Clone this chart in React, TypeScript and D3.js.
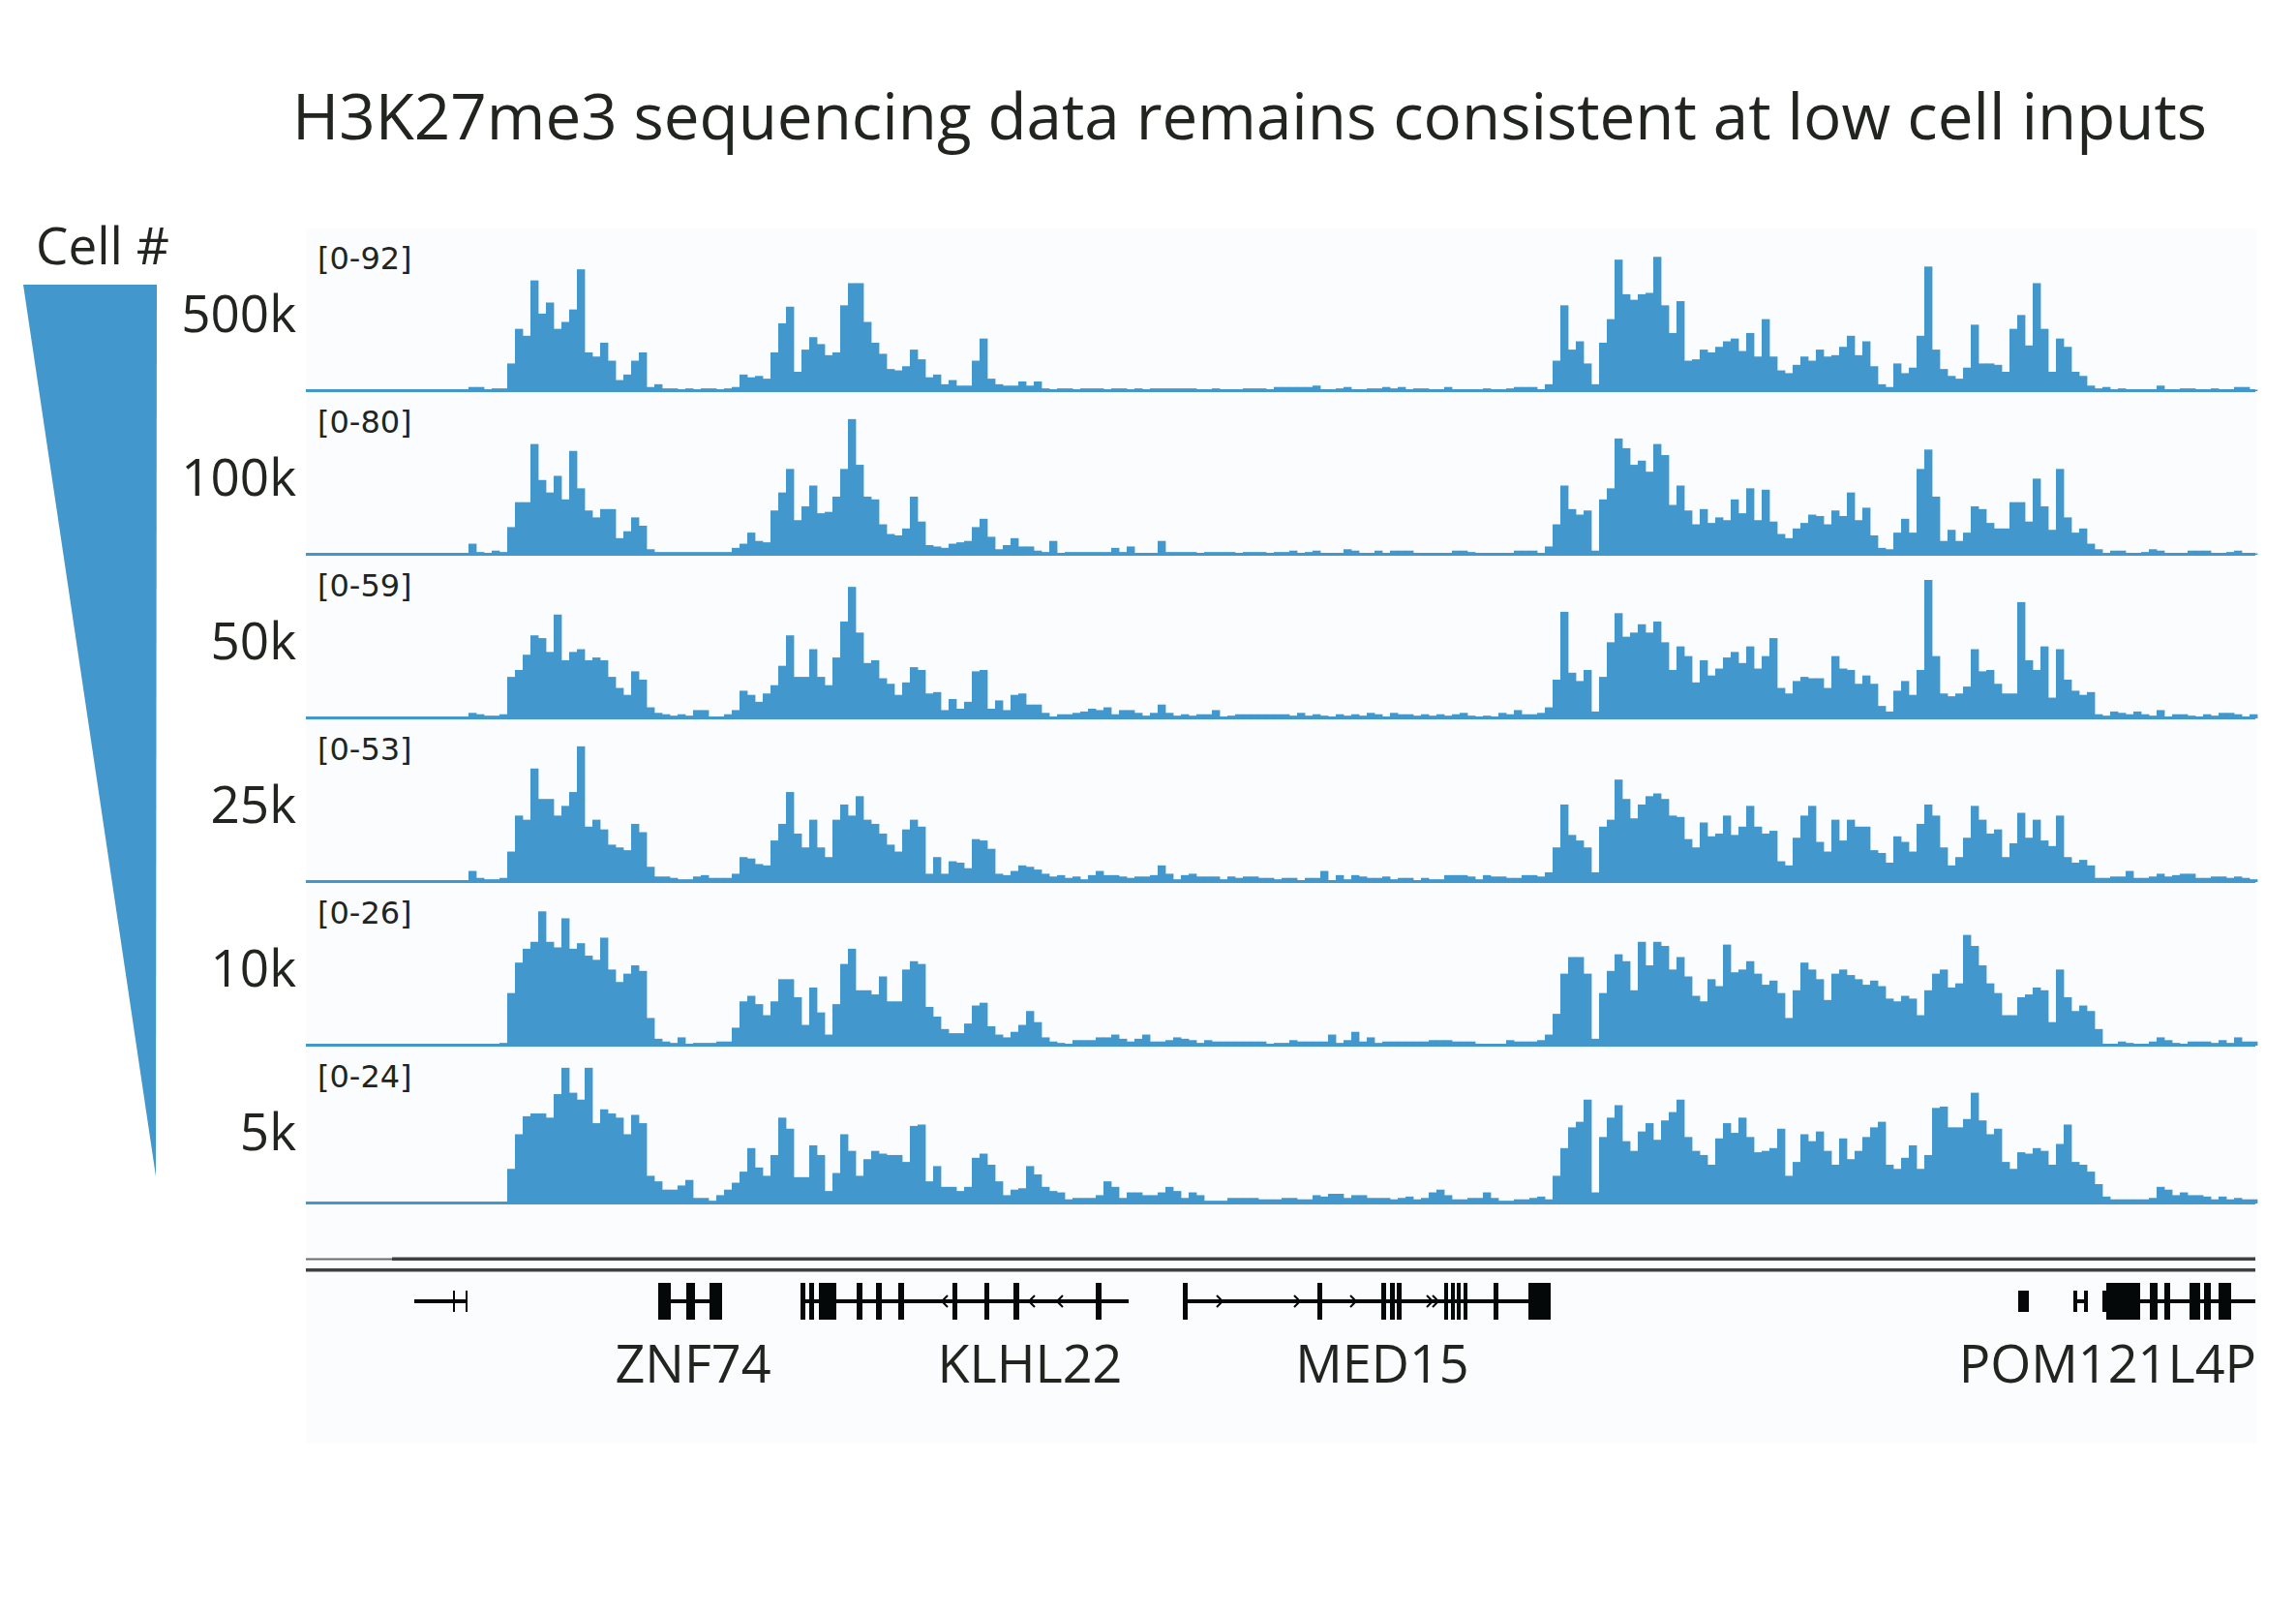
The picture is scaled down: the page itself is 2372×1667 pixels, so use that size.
import * as d3 from 'd3'

// IGV-style screenshot: H3K27me3 CUT&RUN coverage at decreasing cell inputs
const W = 2372
const H = 1667

const BIN_KB = 2
const REGION_KB = 504

const sampleLabels = ['500k', '100k', '50k', '25k', '10k', '5k']
const dataRanges = [92, 80, 59, 53, 26, 24]

// coverage per 2 kb bin, as % of each track's data range
const cov500k = [
  0, 0, 0, 0, 0, 0, 0, 0, 0, 0, 0, 0, 0, 0, 0, 0, 0, 0, 0, 0,
  0, 3, 3, 1, 2, 2, 20, 45, 40, 80, 56, 64, 45, 50, 59, 88, 28, 25, 35, 22,
  8, 12, 22, 28, 3, 5, 2, 2, 0, 2, 1, 2, 2, 1, 2, 3, 12, 10, 11, 9,
  28, 49, 61, 14, 30, 39, 34, 26, 28, 62, 78, 78, 50, 35, 27, 16, 15, 18, 30, 23,
  10, 12, 5, 8, 4, 4, 22, 38, 9, 5, 4, 4, 7, 4, 7, 2, 1, 2, 2, 0,
  2, 2, 2, 1, 2, 2, 0, 2, 1, 2, 2, 2, 2, 2, 2, 0, 1, 2, 0, 0,
  0, 2, 2, 2, 1, 3,
  3, 3, 3, 3, 4, 1, 1, 2, 3, 1, 1, 2, 2, 3, 2, 3, 1, 2, 2, 1,
  1, 3, 1, 1, 1, 1, 2, 1, 1, 2, 3, 3, 3, 1, 5, 22, 62, 30, 36, 20,
  5, 35, 52, 95, 70, 66, 70, 71, 97, 62, 42, 65, 22, 23, 30, 28, 32, 36, 38, 29,
  42, 25, 52, 25, 15, 13, 19, 25, 22, 30, 25, 26, 32, 40, 26, 36, 18, 5, 3, 20,
  13, 17, 40, 90, 30, 16, 11, 9, 17, 48, 20, 20, 19, 14, 45, 55, 33, 78, 45, 14,
  38, 32, 14, 11, 4, 2, 3, 1, 2, 1, 1, 1, 1, 4, 1, 1, 2, 2, 1, 1,
  2, 1, 1, 3, 3, 1
]
const cov100k = [
  0, 0, 0, 0, 0, 0, 0, 0, 0, 0, 0, 0, 0, 0, 0, 0, 0, 0, 0, 0,
  0, 8, 2, 1, 3, 2, 20, 38, 38, 80, 54, 45, 57, 40, 75, 48, 32, 27, 33, 33,
  12, 17, 27, 21, 4, 2, 2, 2, 2, 2, 2, 2, 2, 2, 2, 5, 8, 16, 10, 9,
  32, 45, 62, 25, 35, 50, 30, 31, 42, 62, 98, 65, 42, 40, 22, 15, 14, 19, 42, 24,
  7, 6, 5, 8, 9, 10, 20, 26, 13, 4, 7, 12, 6, 6, 3, 2, 10, 0, 2, 2,
  2, 2, 2, 2, 5, 2, 6, 1, 0, 0, 10, 2, 2, 2, 2, 0, 2, 2, 2, 2,
  0, 2, 2, 2, 0, 2,
  2, 3, 1, 2, 3, 1, 1, 1, 4, 3, 1, 1, 3, 1, 3, 3, 3, 1, 1, 1,
  1, 1, 3, 3, 2, 1, 1, 1, 1, 1, 3, 3, 3, 1, 6, 22, 50, 33, 29, 32,
  3, 40, 48, 84, 77, 65, 68, 60, 80, 72, 36, 50, 32, 22, 33, 23, 27, 25, 40, 30,
  48, 25, 47, 24, 15, 12, 19, 23, 29, 28, 22, 32, 28, 45, 25, 34, 14, 5, 4, 16,
  26, 16, 62, 76, 42, 10, 18, 10, 16, 35, 33, 23, 19, 19, 38, 38, 24, 55, 35, 18,
  62, 27, 16, 19, 8, 4, 1, 3, 3, 1, 1, 2, 4, 3, 1, 1, 1, 3, 3, 3,
  1, 1, 2, 3, 1, 1
]
const cov50k = [
  0, 0, 0, 0, 0, 0, 0, 0, 0, 0, 0, 0, 0, 0, 0, 0, 0, 0, 0, 0,
  0, 4, 3, 2, 2, 3, 30, 35, 46, 60, 58, 48, 75, 42, 48, 50, 42, 44, 42, 30,
  22, 17, 34, 28, 8, 4, 3, 2, 3, 2, 6, 6, 1, 1, 3, 6, 20, 17, 12, 18,
  24, 38, 60, 30, 30, 50, 30, 24, 44, 70, 95, 62, 40, 42, 29, 25, 17, 26, 37, 35,
  18, 19, 6, 14, 7, 12, 34, 35, 7, 13, 6, 17, 18, 10, 10, 4, 1, 3, 3, 4,
  5, 7, 6, 8, 3, 6, 6, 4, 2, 4, 10, 4, 2, 3, 2, 3, 3, 6, 1, 2,
  3, 3, 3, 3, 3, 3,
  3, 2, 4, 2, 3, 2, 1, 3, 2, 3, 2, 4, 3, 1, 4, 3, 3, 2, 3, 2,
  3, 2, 3, 4, 2, 1, 2, 1, 4, 3, 6, 3, 3, 4, 8, 28, 77, 33, 27, 35,
  5, 30, 55, 76, 59, 62, 68, 62, 70, 55, 35, 52, 45, 26, 42, 31, 36, 44, 48, 40,
  52, 36, 45, 58, 22, 18, 27, 30, 29, 29, 22, 45, 36, 35, 25, 31, 25, 9, 5, 20,
  27, 17, 35, 100, 45, 18, 16, 18, 23, 50, 34, 35, 25, 18, 18, 84, 42, 35, 52, 15,
  50, 28, 20, 17, 19, 3, 2, 5, 4, 3, 5, 3, 2, 6, 1, 3, 3, 2, 1, 3,
  2, 4, 4, 3, 1, 3
]
const cov25k = [
  0, 0, 0, 0, 0, 0, 0, 0, 0, 0, 0, 0, 0, 0, 0, 0, 0, 0, 0, 0,
  0, 8, 3, 2, 2, 3, 22, 48, 45, 82, 60, 60, 48, 55, 65, 98, 40, 45, 38, 27,
  25, 23, 42, 36, 11, 4, 4, 3, 2, 2, 4, 5, 3, 3, 3, 6, 18, 17, 13, 12,
  30, 42, 65, 35, 25, 45, 25, 18, 45, 56, 48, 62, 45, 42, 35, 27, 22, 38, 45, 40,
  6, 18, 6, 15, 14, 10, 31, 30, 24, 6, 5, 8, 12, 11, 9, 6, 4, 5, 3, 4,
  2, 5, 8, 5, 5, 4, 3, 4, 4, 5, 12, 6, 2, 5, 6, 4, 4, 4, 2, 4,
  3, 4, 4, 3, 3, 2,
  3, 3, 1, 3, 3, 8, 1, 5, 2, 5, 4, 3, 3, 4, 2, 3, 3, 1, 3, 2,
  2, 5, 5, 5, 4, 2, 5, 4, 4, 3, 3, 5, 5, 4, 7, 25, 56, 34, 30, 25,
  7, 40, 45, 74, 60, 46, 56, 62, 64, 60, 48, 47, 31, 25, 43, 33, 35, 48, 34, 40,
  55, 40, 35, 37, 15, 12, 32, 48, 55, 29, 22, 45, 30, 45, 40, 40, 23, 21, 14, 33,
  29, 22, 42, 56, 48, 25, 12, 18, 32, 55, 45, 35, 38, 18, 28, 50, 32, 45, 30, 26,
  48, 18, 14, 16, 12, 3, 3, 4, 4, 8, 3, 3, 4, 6, 4, 5, 6, 6, 3, 3,
  4, 4, 3, 4, 3, 2
]
const cov10k = [
  0, 0, 0, 0, 0, 0, 0, 0, 0, 0, 0, 0, 0, 0, 0, 0, 0, 0, 0, 0,
  0, 0, 0, 0, 0, 2, 38, 60, 70, 75, 97, 75, 71, 92, 70, 74, 65, 62, 78, 55,
  46, 52, 58, 54, 20, 5, 3, 2, 6, 1, 2, 2, 2, 3, 3, 13, 32, 36, 30, 22,
  32, 48, 48, 35, 15, 42, 24, 8, 30, 59, 70, 40, 40, 37, 50, 32, 32, 55, 61, 59,
  28, 21, 12, 9, 9, 16, 29, 31, 14, 8, 6, 10, 15, 25, 17, 6, 3, 2, 1, 4,
  4, 4, 6, 6, 8, 5, 3, 5, 8, 3, 3, 4, 6, 5, 4, 2, 4, 3, 3, 3,
  3, 3, 3, 3, 1, 2,
  2, 4, 3, 3, 3, 3, 8, 2, 4, 10, 3, 6, 2, 3, 3, 3, 3, 3, 3, 4,
  4, 4, 3, 3, 3, 1, 1, 1, 1, 4, 3, 3, 3, 4, 8, 23, 52, 64, 64, 52,
  5, 38, 54, 66, 61, 40, 75, 58, 75, 72, 55, 64, 50, 36, 32, 48, 43, 73, 53, 55,
  61, 52, 44, 47, 38, 20, 40, 60, 55, 48, 33, 52, 55, 51, 48, 44, 47, 43, 34, 32,
  36, 34, 22, 40, 52, 55, 42, 45, 80, 72, 58, 45, 38, 22, 22, 35, 37, 42, 40, 17,
  55, 35, 25, 29, 25, 12, 1, 1, 3, 2, 1, 1, 3, 6, 4, 2, 1, 3, 3, 3,
  2, 4, 2, 6, 3, 3
]
const cov5k = [
  0, 0, 0, 0, 0, 0, 0, 0, 0, 0, 0, 0, 0, 0, 0, 0, 0, 0, 0, 0,
  0, 0, 0, 0, 0, 0, 25, 50, 63, 65, 65, 62, 79, 98, 80, 75, 98, 58, 68, 65,
  62, 50, 64, 58, 20, 16, 10, 10, 13, 17, 4, 4, 2, 6, 10, 15, 23, 40, 26, 20,
  35, 62, 54, 19, 19, 42, 35, 9, 22, 50, 38, 20, 32, 38, 36, 35, 35, 30, 56, 57,
  16, 27, 12, 12, 9, 12, 33, 36, 28, 16, 6, 10, 11, 27, 21, 12, 9, 8, 3, 4,
  4, 4, 6, 16, 12, 4, 8, 8, 6, 6, 8, 12, 9, 4, 8, 6, 2, 2, 2, 4,
  4, 4, 4, 3, 3, 3,
  4, 4, 3, 3, 6, 5, 7, 7, 4, 6, 6, 4, 4, 4, 3, 4, 5, 3, 4, 8,
  10, 6, 3, 3, 4, 4, 8, 4, 2, 2, 3, 3, 4, 5, 3, 20, 40, 55, 59, 75,
  8, 48, 62, 71, 45, 38, 52, 58, 46, 60, 66, 75, 48, 38, 35, 28, 47, 58, 51, 62,
  48, 37, 38, 40, 54, 20, 30, 50, 45, 52, 38, 28, 47, 32, 38, 48, 55, 59, 28, 25,
  33, 42, 25, 35, 69, 70, 55, 55, 61, 80, 60, 50, 54, 30, 25, 37, 36, 40, 38, 28,
  43, 57, 30, 28, 23, 14, 5, 3, 3, 3, 3, 3, 4, 12, 10, 6, 8, 6, 6, 5,
  3, 5, 3, 4, 3, 3
]
const coverage = [cov500k, cov100k, cov50k, cov25k, cov10k, cov5k]

// gene annotation, positions in kb from the left edge of the window
const geneNames = ['ZNF74', 'KLHL22', 'MED15', 'POM121L4P']
const geneLabelKb = [100, 187, 278, 503.75]
const intronSpans = [
  [28, 41.75], [91, 107.5], [127.75, 212.5], [226.5, 321.5], [456.5, 460.25], [464, 503.5]
]
const codingExons = [
  [91, 94.25], [98.25, 100.5], [104.25, 107.5],
  [127.75, 129], [130, 131.25], [132.5, 137], [142.25, 143.75], [147.25, 148.75],
  [153, 154.5], [167, 168.25], [175.25, 176.5], [182.75, 184.25], [204, 205.5],
  [226.5, 227.75], [261.25, 262.5], [277.75, 279], [280, 281.25], [281.75, 283],
  [294, 295], [295.75, 296.75], [297.25, 298.25], [299, 300], [306.75, 308], [315.75, 321.5],
  [465, 473.75], [476.25, 478.25], [480, 481.5], [486.5, 489.25], [490.25, 492], [494, 497.25]
]
const utrExons = [
  [38, 38.5], [41.25, 41.75], [442.25, 445], [456.5, 457.5], [459.25, 460.25], [464, 465]
]
const strandArrows = [
  [165, -1], [187.5, -1], [194.75, -1],
  [236, 1], [256, 1], [270.5, 1], [290.25, 1], [291.75, 1]
]

const BLUE = '#4298cc'
const INK = '#22241f'
const FONT = '"Open Sans", Lato, sans-serif'

const PANEL_LEFT = 316
const PANEL_RIGHT = 2332
const TRACK_TOP = 236
const TRACK_STEP = 169
const TRACK_H = 168
const LAST_TRACK_H = 162
const BAR_MAX_PX = 143

export default function App() {
  const x = d3.scaleLinear().domain([0, REGION_KB]).range([PANEL_LEFT, PANEL_RIGHT])

  const tracks = coverage.map((values, i) => {
    const top = TRACK_TOP + TRACK_STEP * i
    const base = top + (i === coverage.length - 1 ? LAST_TRACK_H : TRACK_H)
    const y = d3.scaleLinear().domain([0, 100]).range([base, base - BAR_MAX_PX])
    return { values, top, base, y, label: sampleLabels[i], range: dataRanges[i] }
  })

  const geneY = 1344
  const lineY1 = 1300
  const lineY2 = 1311.5

  return (
    <svg
      width={W}
      height={H}
      viewBox={`0 0 ${W} ${H}`}
      style={{ position: 'absolute', left: 0, top: 0, background: '#fff' }}
    >
      <rect x={0} y={0} width={W} height={H} fill="#fff" />

      <text
        x={1291}
        y={144}
        textAnchor="middle"
        fontFamily={FONT}
        fontSize={65.5}
        fontWeight={500}
        fill={INK}
      >
        H3K27me3 sequencing data remains consistent at low cell inputs
      </text>

      {/* cell-number wedge */}
      <text x={37} y={273} fontFamily={FONT} fontSize={53} fontWeight={500} fill={INK}>
        Cell #
      </text>
      <path d="M24,294 L162,294 L161,1215 Z" fill={BLUE} />

      {/* track panel */}
      <rect
        x={PANEL_LEFT}
        y={TRACK_TOP}
        width={PANEL_RIGHT - PANEL_LEFT}
        height={1490 - TRACK_TOP}
        fill="#fafcfe"
      />

      {tracks.map((t, ti) => (
        <g key={ti}>
          <text
            x={306}
            y={t.top + 107}
            textAnchor="end"
            fontFamily={FONT}
            fontSize={53}
            fill={INK}
          >
            {t.label}
          </text>
          <text
            x={328}
            y={t.top + 42}
            fontFamily='"DejaVu Sans", sans-serif'
            fontSize={32}
            fill={INK}
          >
            {`[0-${t.range}]`}
          </text>
          {t.values.map((v, i) =>
            v > 0 ? (
              <rect
                key={i}
                x={x(i * BIN_KB)}
                y={t.y(v)}
                width={x((i + 1) * BIN_KB) - x(i * BIN_KB) + 0.4}
                height={t.base - t.y(v)}
                fill={BLUE}
              />
            ) : null
          )}
          <rect
            x={PANEL_LEFT}
            y={t.base - 2}
            width={PANEL_RIGHT - PANEL_LEFT - 2}
            height={3}
            fill={BLUE}
          />
        </g>
      ))}

      {/* divider lines above the gene track */}
      <rect x={PANEL_LEFT} y={lineY1 - 0.5} width={x(22.25) - PANEL_LEFT} height={2} fill="#6a6a6a" />
      <rect x={x(22.25)} y={lineY1 - 1.5} width={PANEL_RIGHT - 2 - x(22.25)} height={3.5} fill="#404040" />
      <rect x={PANEL_LEFT} y={lineY2 - 1.5} width={PANEL_RIGHT - 2 - PANEL_LEFT} height={3.5} fill="#404040" />

      {/* gene models */}
      <g fill="#050808">
        {intronSpans.map(([s, e], i) => (
          <rect key={`in${i}`} x={x(s)} y={geneY - 2} width={x(e) - x(s)} height={4} />
        ))}
        {utrExons.map(([s, e], i) => (
          <rect key={`u${i}`} x={x(s)} y={geneY - 11} width={Math.max(2, x(e) - x(s))} height={22} />
        ))}
        {codingExons.map(([s, e], i) => (
          <rect key={`c${i}`} x={x(s)} y={geneY - 19} width={Math.max(3, x(e) - x(s))} height={38} />
        ))}
      </g>
      <g fill="none" stroke="#050808" strokeWidth={2}>
        {strandArrows.map(([p, dir], i) => {
          const cx = x(p)
          return (
            <path
              key={`a${i}`}
              d={`M${cx - 3 * dir},${geneY - 6} L${cx + 3 * dir},${geneY} L${cx - 3 * dir},${geneY + 6}`}
            />
          )
        })}
      </g>
      {geneNames.map((name, i) => (
        <text
          key={name}
          x={x(geneLabelKb[i])}
          y={1428}
          textAnchor={i === geneNames.length - 1 ? 'end' : 'middle'}
          fontFamily={FONT}
          fontSize={54}
          fill={INK}
        >
          {name}
        </text>
      ))}
    </svg>
  )
}
